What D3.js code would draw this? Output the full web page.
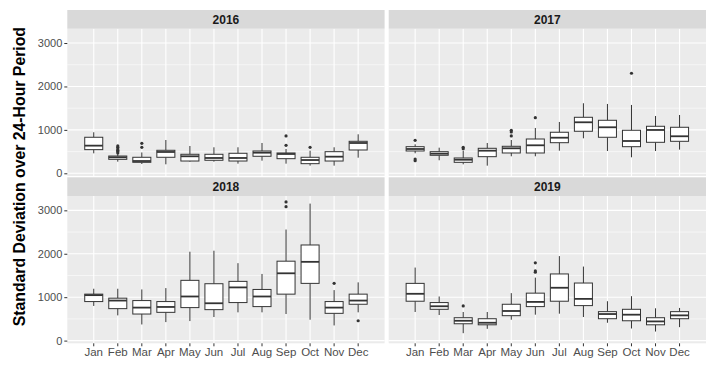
<!DOCTYPE html>
<html>
<head>
<meta charset="utf-8">
<style>
  body { margin: 0; background: #fff; }
  text { font-family: "Liberation Sans", Arial, sans-serif; }
  .strip text { font-weight: bold; font-size: 12px; fill: #1a1a1a; }
  .tick text { font-size: 11px; fill: #4d4d4d; }
</style>
</head>
<body>
<div id="vis"></div>
<script src="https://cdn.jsdelivr.net/npm/d3@7"></script>
<script>
var width = 715, height = 366;

var months = ["Jan","Feb","Mar","Apr","May","Jun","Jul","Aug","Sep","Oct","Nov","Dec"];
var years = ["2016","2017","2018","2019"];
var yTicks = [0, 1000, 2000, 3000];

// [lower whisker, q1, median, q3, upper whisker] per month
var box2016 = [[460,545,637,830,945],[268,322,369,398,450],[214,253,283,369,480],[207,369,491,530,767],
  [268,283,392,438,629],[268,300,353,438,599],[222,283,353,461,599],[291,392,475,514,698],
  [222,337,445,468,560],[176,222,306,369,521],[176,283,383,498,599],[360,537,698,737,898]];
var box2017 = [[461,514,560,613,668],[300,415,452,498,590],[207,253,313,353,521],[176,383,521,576,698],
  [392,468,576,622,767],[392,468,645,790,1044],[521,705,820,945,1182],[806,968,1175,1290,1613],
  [514,830,1060,1221,1597],[369,613,744,991,1574],[514,714,998,1083,1320],[545,737,853,1060,1343]];
var box2018 = [[798,899,1047,1070,1194],[581,736,922,977,1194],[372,612,760,922,1178],[426,651,775,899,1209],
  [450,760,1016,1388,2047],[543,713,860,1310,2070],[651,876,1225,1364,1783],[651,783,1016,1178,1535],
  [612,1070,1550,1829,2558],[481,1318,1814,2202,3155],[349,628,760,899,1163],[651,837,922,1070,1341]];
var box2019 = [[659,907,1078,1318,1682],[589,721,791,876,1016],[171,388,457,527,659],[271,364,411,504,659],
  [481,574,682,837,1093],[597,783,891,1093,1450],[620,907,1217,1535,1946],[543,806,961,1326,1705],
  [411,504,612,667,907],[279,457,597,721,1023],[209,364,442,527,744],[310,504,581,667,752]];

// outliers: [month index, value]
var out2016 = [[1,470],[1,500],[1,530],[1,560],[1,600],[1,630],[2,599],[2,691],[8,645],[8,860],[9,599]];
var out2017 = [[0,760],[0,290],[0,330],[2,565],[2,600],[4,860],[4,952],[4,991],[5,1281],[9,2304]];
var out2018 = [[8,3085],[8,3194],[10,1318],[11,457]];
var out2019 = [[2,798],[5,1574],[5,1605],[5,1791]];

var boxes = {"2016": box2016, "2017": box2017, "2018": box2018, "2019": box2019};
var outliers = {"2016": out2016, "2017": out2017, "2018": out2018, "2019": out2019};

var svg = d3.select("#vis").append("svg")
  .attr("width", width).attr("height", height);

var colX = [67.3, 388.7], panelW = 317.3;
var rowY = [10, 177.3], stripH = 18.7, panelH = 147.3;

var x = d3.scaleBand().domain(months).range([0, panelW]).paddingOuter(0.6).paddingInner(0).align(0.5);
var boxW = x.bandwidth() * 0.75;
var y = d3.scaleLinear().domain([-62, 3330]).range([panelH, 0]);

years.forEach(function(yr, i){
  var col = i % 2, row = Math.floor(i / 2);
  var g = svg.append("g").attr("transform", "translate(" + colX[col] + "," + (rowY[row] + stripH) + ")");

  var strip = svg.append("g").attr("class", "strip")
    .attr("transform", "translate(" + colX[col] + "," + rowY[row] + ")");
  strip.append("rect").attr("width", panelW).attr("height", stripH).attr("fill", "#d9d9d9");
  strip.append("text").attr("x", panelW / 2).attr("y", stripH / 2 + 4.3)
    .attr("text-anchor", "middle").text(yr);

  g.append("rect").attr("width", panelW).attr("height", panelH).attr("fill", "#ebebeb");

  g.selectAll(".minor").data([500, 1500, 2500]).enter().append("line")
    .attr("x1", 0).attr("x2", panelW)
    .attr("y1", function(d){ return y(d); }).attr("y2", function(d){ return y(d); })
    .attr("stroke", "#fff").attr("stroke-width", 0.55);
  g.selectAll(".major").data(yTicks).enter().append("line")
    .attr("x1", 0).attr("x2", panelW)
    .attr("y1", function(d){ return y(d); }).attr("y2", function(d){ return y(d); })
    .attr("stroke", "#fff").attr("stroke-width", 1.1);
  g.selectAll(".vgrid").data(months).enter().append("line")
    .attr("x1", function(d){ return x(d) + x.bandwidth() / 2; })
    .attr("x2", function(d){ return x(d) + x.bandwidth() / 2; })
    .attr("y1", 0).attr("y2", panelH)
    .attr("stroke", "#fff").attr("stroke-width", 1.1);

  var b = g.selectAll(".box").data(boxes[yr]).enter().append("g")
    .attr("transform", function(d, j){ return "translate(" + (x(months[j]) + x.bandwidth() / 2) + ",0)"; });
  b.append("line").attr("x1", 0).attr("x2", 0)
    .attr("y1", function(d){ return y(d[3]); }).attr("y2", function(d){ return y(d[4]); })
    .attr("stroke", "#333").attr("stroke-width", 1);
  b.append("line").attr("x1", 0).attr("x2", 0)
    .attr("y1", function(d){ return y(d[1]); }).attr("y2", function(d){ return y(d[0]); })
    .attr("stroke", "#333").attr("stroke-width", 1);
  b.append("rect").attr("x", -boxW / 2).attr("width", boxW)
    .attr("y", function(d){ return y(d[3]); })
    .attr("height", function(d){ return y(d[1]) - y(d[3]); })
    .attr("fill", "#fff").attr("stroke", "#333").attr("stroke-width", 1);
  b.append("line").attr("x1", -boxW / 2).attr("x2", boxW / 2)
    .attr("y1", function(d){ return y(d[2]); }).attr("y2", function(d){ return y(d[2]); })
    .attr("stroke", "#333").attr("stroke-width", 1.8);

  g.selectAll(".out").data(outliers[yr]).enter().append("circle")
    .attr("cx", function(d){ return x(months[d[0]]) + x.bandwidth() / 2; })
    .attr("cy", function(d){ return y(d[1]); })
    .attr("r", 1.6).attr("fill", "#333");

  if (col === 0) {
    g.append("g").call(d3.axisLeft(y).tickValues(yTicks).tickSize(3).tickPadding(2).tickFormat(d3.format("d")))
      .call(function(a){ a.select(".domain").remove(); a.selectAll("line").attr("stroke", "#333"); });
  }
  if (row === 1) {
    g.append("g").attr("transform", "translate(0," + panelH + ")")
      .call(d3.axisBottom(x).tickSize(3).tickPadding(2))
      .call(function(a){
        a.select(".domain").remove();
        a.selectAll("line").attr("stroke", "#333");
        a.selectAll("text").style("font-size", "11.5px");
      });
  }
});

svg.append("text")
  .attr("transform", "translate(25," + (rowY[0] + (rowY[1] + stripH + panelH - rowY[0]) / 2) + ") rotate(-90)")
  .attr("text-anchor", "middle")
  .attr("font-weight", "bold").attr("font-size", "15.8px").attr("fill", "#000")
  .text("Standard Deviation over 24-Hour Period");
</script>
</body>
</html>
